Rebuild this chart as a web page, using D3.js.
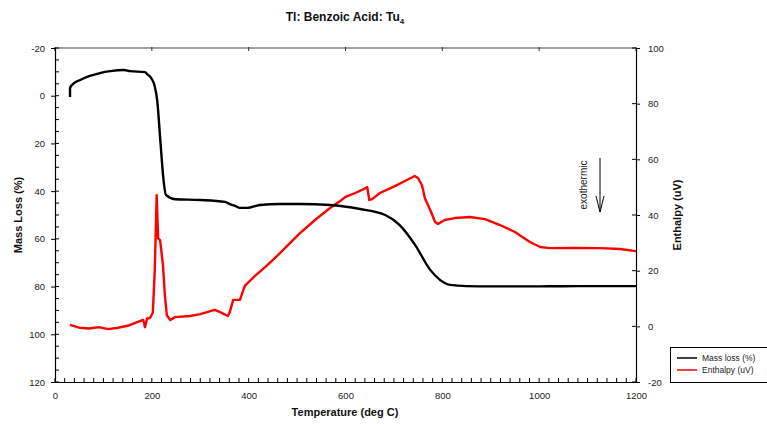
<!DOCTYPE html>
<html><head><meta charset="utf-8">
<script src="https://cdn.jsdelivr.net/npm/d3@7"></script>
<style>body{margin:0;background:#fff}svg{display:block;font-family:"Liberation Sans",Arial,sans-serif}</style>
</head><body><svg id="c" width="767" height="424"></svg>
<script>
// Data
const massTemp = [31,31,35,52,72,93,114,142,155,186,190,200,206,211,218,224,229,248,300,351,361,372,382,397,423,465,506,568,630,682,712,744,775,795,816,850,900,1000,1100,1200];
const massLoss = [0.5,-3.2,-4.5,-6.6,-8.3,-9.5,-10.3,-10.8,-10.3,-9.9,-9.1,-7,-4,1.8,20,35,41.6,43.4,43.7,44.5,45.4,46.2,47,47,45.8,45.4,45.4,45.8,47.5,50,54.2,62.6,73,77.2,79.3,79.8,79.9,79.9,79.8,79.8];
const enthTemp = [31,50,70,90,110,130,150,170,182,186,190,196,202,206,210,213,217,223,227,231,238,248,279,300,330,341,357,361,368,382,392,413,434,454,475,506,537,568,589,599,620,634,645,649,655,671,702,723,743,750,758,764,775,785,791,805,826,857,888,919,950,981,1002,1022,1075,1125,1167,1200];
const enthalpy = [0.5,-0.5,-0.8,-0.3,-1,-0.5,0.2,1.5,2.3,-0.3,2.8,3,4.8,20,47.1,31.7,31,22,11,4,2.3,3.3,3.7,4.4,5.9,5.1,3.7,5.1,9.5,9.5,14.5,18.1,21.3,24.5,28.1,33.5,38.2,42.5,45,46.4,47.9,49,50,45.4,45.7,47.9,50.4,52.2,54,53.2,50.7,46,41.8,37.5,36.8,38.2,38.9,39.3,38.5,36.4,33.9,30.3,28.5,28.1,28.2,28.1,27.8,27];
const xTicks = [0,200,400,600,800,1000,1200];
const yLeftTicks = [-20,0,20,40,60,80,100,120];
const yRightTicks = [-20,0,20,40,60,80,100];
const title = "Tl: Benzoic Acid: Tu";
const legendLabels = ["Mass loss (%)","Enthalpy (uV)"];
const colors = ["#000000","#ff0000"];

const svg = d3.select("#c");
const L=55,R=636,T=48,B=382;
const fmt = d => String(d);
const x = d3.scaleLinear().domain([0,1200]).range([L,R]);
const yL = d3.scaleLinear().domain([-20,120]).range([T,B]);
const yR = d3.scaleLinear().domain([-20,100]).range([B,T]);

// top gray line
svg.append("line").attr("x1",L).attr("x2",R).attr("y1",T).attr("y2",T).attr("stroke","#808080").attr("stroke-width",1.3);
svg.selectAll(".tt").data(xTicks).enter().append("line").attr("x1",d=>x(d)).attr("x2",d=>x(d)).attr("y1",T-1).attr("y2",T+3).attr("stroke","#333");

// bottom axis
const gx = svg.append("g").attr("transform",`translate(0,${B})`)
  .call(d3.axisBottom(x).tickValues(xTicks).tickFormat(fmt).tickSize(0).tickPadding(10));
gx.select(".domain").attr("stroke","#000").attr("stroke-width",1.2);
gx.selectAll("text").attr("font-size",9.5).attr("fill","#222");
svg.selectAll(".xm").data(d3.range(0,1201,20)).enter().append("line")
  .attr("x1",d=>x(d)).attr("x2",d=>x(d)).attr("y1",B).attr("y2",B-4).attr("stroke","#000");

// left axis
const gl = svg.append("g").attr("transform",`translate(${L},0)`)
  .call(d3.axisLeft(yL).tickValues(yLeftTicks).tickFormat(fmt).tickSize(4).tickPadding(6));
gl.select(".domain").attr("stroke","#000").attr("stroke-width",1.2);
gl.selectAll("text").attr("font-size",9.5).attr("fill","#222");
svg.selectAll(".lm").data(d3.range(-20,121,5)).enter().append("line")
  .attr("x1",L).attr("x2",L+4).attr("y1",d=>yL(d)).attr("y2",d=>yL(d)).attr("stroke","#000");

// right axis
const gr = svg.append("g").attr("transform",`translate(${R},0)`)
  .call(d3.axisRight(yR).tickValues(yRightTicks).tickFormat(fmt).tickSize(4).tickPadding(8));
gr.select(".domain").attr("stroke","#000").attr("stroke-width",1.2);
gr.selectAll("text").attr("font-size",9.5).attr("fill","#222");
svg.selectAll(".rm").data(yRightTicks).enter().append("line")
  .attr("x1",R-4).attr("x2",R).attr("y1",d=>yR(d)).attr("y2",d=>yR(d)).attr("stroke","#000");

// lines
const lineM = d3.line().x((d,i)=>x(massTemp[i])).y(d=>yL(d)).curve(d3.curveMonotoneX);
const lineE = d3.line().x((d,i)=>x(enthTemp[i])).y(d=>yR(d));
svg.append("path").attr("d",lineE(enthalpy)).attr("fill","none").attr("stroke",colors[1]).attr("stroke-width",2.4).attr("stroke-linejoin","round");
svg.append("path").attr("d",lineM(massLoss)).attr("fill","none").attr("stroke",colors[0]).attr("stroke-width",2.4).attr("stroke-linejoin","round");

// title
const tt = svg.append("text").attr("x",345).attr("y",21).attr("text-anchor","middle").attr("font-size",12).attr("font-weight","bold").attr("fill","#111");
tt.append("tspan").text(title);
tt.append("tspan").attr("font-size",8).attr("dy",3).text("4");

// axis titles
svg.append("text").attr("x",345).attr("y",416).attr("text-anchor","middle").attr("font-size",11).attr("font-weight","bold").attr("fill","#111").text("Temperature (deg C)");
svg.append("text").attr("transform","translate(22,215) rotate(-90)").attr("text-anchor","middle").attr("font-size",11).attr("font-weight","bold").attr("fill","#111").text("Mass Loss (%)");
svg.append("text").attr("transform","translate(681,215) rotate(-90)").attr("text-anchor","middle").attr("font-size",11).attr("font-weight","bold").attr("fill","#111").text("Enthalpy (uV)");

// exothermic annotation
svg.append("text").attr("transform","translate(587,185) rotate(-90)").attr("text-anchor","middle").attr("font-size",10).attr("fill","#222").text("exothermic");
svg.append("line").attr("x1",600).attr("x2",600).attr("y1",158).attr("y2",212).attr("stroke","#000").attr("stroke-width",1);
svg.append("path").attr("d","M596,196 L600,212 L604,196").attr("fill","none").attr("stroke","#000").attr("stroke-width",1);

// legend
const lg = svg.append("g");
lg.append("rect").attr("x",670.5).attr("y",347.5).attr("width",100).attr("height",35).attr("fill","#fff").attr("stroke","#000");
legendLabels.forEach((lab,i)=>{
  const yy = 358 + i*12;
  lg.append("line").attr("x1",677).attr("x2",697).attr("y1",yy).attr("y2",yy).attr("stroke",colors[i]).attr("stroke-width",1.5);
  lg.append("text").attr("x",702).attr("y",yy+3).attr("font-size",8.5).attr("fill","#222").text(lab);
});
</script></body></html>
